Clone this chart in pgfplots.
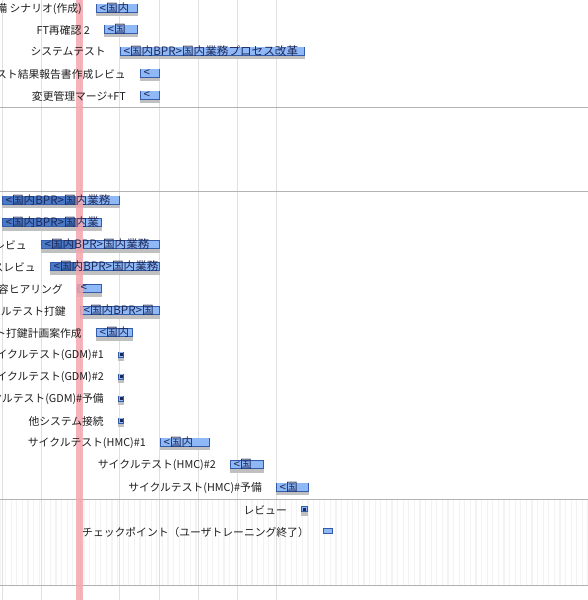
\documentclass[border=0pt]{standalone}
\usepackage{fontspec}
\setmainfont{Noto Sans CJK JP}
\usepackage{pgfplots}
\pgfplotsset{compat=1.18}
\usepackage{pgfplotstable}
\usetikzlibrary{patterns.meta}

\definecolor{barlight}{RGB}{143,184,246}
\definecolor{bardark}{RGB}{72,120,198}
\definecolor{barline}{RGB}{52,92,170}
\definecolor{shadowgray}{RGB}{192,192,192}
\definecolor{bartext}{RGB}{28,40,88}
\definecolor{labeltext}{RGB}{30,30,30}
\definecolor{gridgray}{RGB}{224,224,224}
\definecolor{sepgray}{RGB}{178,178,178}
\definecolor{stripe}{RGB}{243,243,243}
\definecolor{todaypink}{RGB}{244,166,173}

\newcommand\tfont{\fontsize{10.8}{12}\selectfont}
\newcommand\bfont{\fontsize{11.6}{12}\selectfont}

% y = row centre (px from top), start/dur in px of the time scale
\pgfplotstableread[col sep=comma]{
y,start,dur,prog,txt,label
8,96,42,0,<国内,テスト準備 シナリオ(作成)
29,104,34,0,<国,FT再確認 2
51,120,185,0,<国内BPR>国内業務プロセス改革,システムテスト
73,140,20,0,<,テスト結果報告書作成レビュ
95,140,20,0,<,変更管理マージ+FT
200,2,118,75,<国内BPR>国内業務,業務プロセス設計書作成
222.5,2,100,75,<国内BPR>国内業,業務プロセス設計書修正
244.5,41,119,35,<国内BPR>国内業務,業務フローレビュ
266.5,50,110,26,<国内BPR>国内業務,テストケースレビュ
288.5,77,25,2,<,業務内容ヒアリング
310.5,80,80,0,<国内BPR>国,サイクルテスト打鍵
332.5,96,37,0,<国内,サイクルテスト打鍵計画案作成
442,160,50,0,<国内,サイクルテスト(HMC)\#1
464.5,230,34,0,<国,サイクルテスト(HMC)\#2
487,276,33,0,<国,サイクルテスト(HMC)\#予備
}\bars

\pgfplotstableread[col sep=comma]{
y,start,dur,label
354.5,118,6,サイクルテスト(GDM)\#1
376.5,118,6,サイクルテスト(GDM)\#2
398.5,118,6,サイクルテスト(GDM)\#予備
420.5,118,6,他システム接続
509,301,6.5,レビュー
}\miles

\pgfplotstableread[col sep=comma]{
y,start,dur,label
531,323,10,チェックポイント（ユーザトレーニング終了）
}\checkpt

\pgfplotsset{
  hidemarks/.style={only marks, mark=*, mark size=0pt,
    mark options={draw=none, fill=none}},
  hbar/.style 2 args={hidemarks,
    error bars/.cd, x dir=plus, x explicit, error mark=none,
    error bar style={line width=#1, color=#2}},
  txtnodes/.style={hidemarks,
    scatter/use mapped color={draw=none, fill=none},
    nodes near coords, point meta=explicit symbolic},
}

\begin{document}
\begin{tikzpicture}
\useasboundingbox (0,0) rectangle (588pt,600pt);
\clip (0,0) rectangle (588pt,600pt);
\begin{axis}[
  scale only axis, width=588pt, height=600pt,
  xmin=0, xmax=588, ymin=0, ymax=600, y dir=reverse,
  axis line style={draw=none}, tick style={draw=none},
  xtick={2,41.25,80.5,119.75,159,198.25,237.5,276.75}, xticklabels={},
  xmajorgrids, major grid style={color=gridgray, line width=0.9pt},
  ytick=\empty,
  extra y ticks={107,191,499,585}, extra y tick labels={},
  extra y tick style={grid=major, major grid style={color=sepgray, line width=1pt}},
]
% striped band
\fill[pattern={Lines[angle=90,distance=5.6pt,line width=1.2pt]}, pattern color=stripe]
  (axis cs:0,500) rectangle (axis cs:588,584.5);

% shadows
\addplot[hbar={9pt}{shadowgray}] table[x=start, y expr=\thisrow{y}+3.5, x error=dur]{\bars};
\addplot[hbar={6pt}{shadowgray}] table[x=start, y expr=\thisrow{y}+3.5, x error=dur]{\miles};

% bars
\addplot[hbar={9pt}{barline}] table[x=start, y=y, x error=dur]{\bars};
\addplot[hbar={7.4pt}{barlight}] table[x expr=\thisrow{start}+0.8, y=y, x error expr=\thisrow{dur}-1.6]{\bars};
\addplot[hbar={7.4pt}{bardark}] table[x expr=\thisrow{start}+0.8, y=y, x error=prog]{\bars};

\addplot[hbar={6pt}{barline}] table[x=start, y=y, x error=dur]{\miles};
\addplot[hbar={4.4pt}{barlight}] table[x expr=\thisrow{start}+0.8, y=y, x error expr=\thisrow{dur}-1.6]{\miles};
\addplot[only marks, mark=square*, mark size=0.9pt, mark options={draw=bartext, fill=bartext}]
  table[x expr=\thisrow{start}+3, y=y]{\miles};

\addplot[hbar={6pt}{barline}] table[x=start, y=y, x error=dur]{\checkpt};
\addplot[hbar={4.4pt}{barlight}] table[x expr=\thisrow{start}+0.8, y=y, x error expr=\thisrow{dur}-1.6]{\checkpt};

% today line
\addplot[mark=none, line width=6.5pt, color=todaypink, opacity=0.85] coordinates {(79.3,0) (79.3,600)};

% text inside bars
\addplot[txtnodes, nodes near coords style={anchor=west, xshift=3.5pt, inner sep=0pt, font=\bfont, text=bartext}]
  table[x=start, y=y, meta=txt]{\bars};

% task labels
\addplot[txtnodes, nodes near coords style={anchor=east, xshift=-14pt, yshift=-1pt, inner sep=0pt, font=\tfont, text=labeltext}]
  table[x=start, y=y, meta=label]{\bars};
\addplot[txtnodes, nodes near coords style={anchor=east, xshift=-14pt, yshift=-1pt, inner sep=0pt, font=\tfont, text=labeltext}]
  table[x=start, y=y, meta=label]{\miles};
\addplot[txtnodes, nodes near coords style={anchor=east, xshift=-14pt, yshift=-1pt, inner sep=0pt, font=\tfont, text=labeltext}]
  table[x=start, y=y, meta=label]{\checkpt};
\end{axis}
\end{tikzpicture}
\end{document}
